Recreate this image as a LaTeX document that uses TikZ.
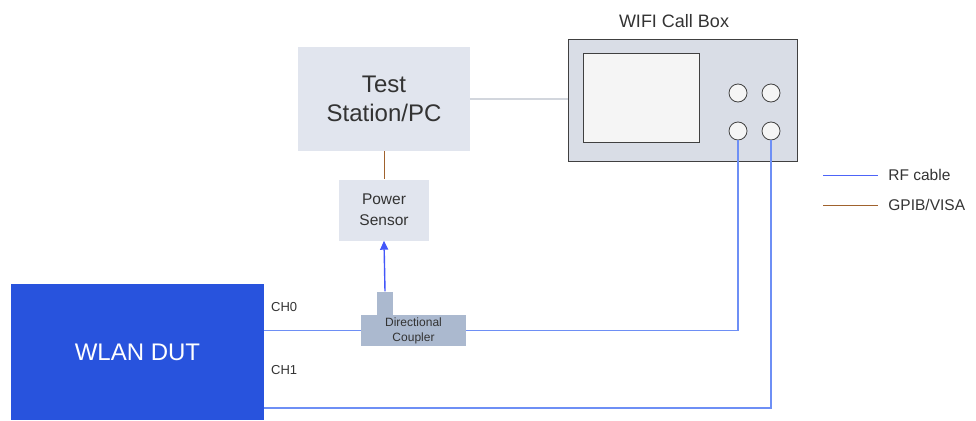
\documentclass[tikz,border=0pt]{standalone}
\usepackage{fontspec}
\setmainfont{Liberation Sans}
\usetikzlibrary{arrows.meta}

\definecolor{boxgray}{HTML}{E1E5EE}
\definecolor{instgray}{HTML}{D9DDE6}
\definecolor{cplgray}{HTML}{ABB9CF}
\definecolor{dutblue}{HTML}{2853DD}
\definecolor{rfblue}{HTML}{6E8FF5}
\definecolor{gpib}{HTML}{A0622D}
\definecolor{txtgray}{HTML}{333333}

\tikzset{
  block/.style={fill=boxgray, draw=none, align=center, text=txtgray, inner sep=0pt},
  rf/.style={draw=rfblue, line width=1.3pt},
  bus/.style={draw=gpib, line width=0.9pt},
  port/.style={circle, draw=black!75, fill=white!96!black, line width=0.8pt, minimum size=18pt, inner sep=0pt},
  lbl/.style={text=txtgray, inner sep=0pt}
}

\begin{document}
\begin{tikzpicture}[x=1pt, y=-1pt]
    \useasboundingbox (0,0) rectangle (976,420);

    % instruments
    \node[block, minimum width=172pt, minimum height=104pt, font=\fontsize{24}{29}\selectfont] (pc) at (384,99) {Test\\Station/PC};
    \node[block, minimum width=90pt, minimum height=61pt, font=\fontsize{15.5}{21}\selectfont] (sensor) at (384,210) {Power\\Sensor};

    \node[draw=black!75, fill=instgray, line width=0.8pt, minimum width=229pt, minimum height=122pt, inner sep=0pt] (box) at (682.5,100) {};
    \node[draw=black!75, fill=white!96!black, line width=0.8pt, minimum width=116pt, minimum height=89pt, inner sep=0pt] (screen) at (641,97.5) {};
    \node[lbl, font=\fontsize{18}{20}\selectfont, above=0pt] (boxname) at (674,28) {WIFI Call Box};

    \node[port] (p1) at (738,93) {};
    \node[port] (p2) at (771,93) {};
    \node[port] (p3) at (738,131) {};
    \node[port] (p4) at (771,131) {};

    % DUT
    \node[fill=dutblue, minimum width=253pt, minimum height=136pt, inner sep=0pt, text=white, font=\fontsize{24}{28}\selectfont] (dut) at (137.5,352) {WLAN DUT};
    \node[lbl, font=\fontsize{13}{15}\selectfont, anchor=west] (ch0) at (271,307) {CH0};
    \node[lbl, font=\fontsize{13}{15}\selectfont, anchor=west] (ch1) at (271,370) {CH1};

    % coupler
    \node[fill=cplgray, minimum width=16pt, minimum height=24pt, inner sep=0pt] (stub) at (385,303.5) {};
    \node[fill=cplgray, minimum width=105pt, minimum height=31pt, inner sep=0pt, align=center, text=txtgray, font=\fontsize{12}{15}\selectfont] (coupler) at (413.5,330.5) {Directional\\Coupler};

    % connections
    \draw[draw=boxgray!85!gray, line width=1.2pt] (pc.east) -- (box.west |- pc.east);
    \draw[bus] (pc.south) -- (sensor.north);
    \draw[draw=rfblue!60!blue, line width=1.4pt, -{Triangle[length=9pt, width=8pt]}] (stub.north) -- (sensor.south);

    \draw[rf] (dut.east |- coupler.west) -- (coupler.west);
    \draw[rf] (coupler.east) -| (p3.south);
    \draw[rf] (264,408) -| (p4.south);

    % legend
    \coordinate (l1) at (823,175);
    \coordinate (l2) at (823,205);
    \draw[draw=rfblue!70!blue, line width=0.8pt] (l1) -- ++(55,0) node[lbl, anchor=west, xshift=10pt, font=\fontsize{15.5}{18}\selectfont] (rflbl) {RF cable};
    \draw[draw=gpib, line width=0.8pt] (l2) -- ++(55,0) node[lbl, anchor=west, xshift=10pt, font=\fontsize{15.5}{18}\selectfont] (gpiblbl) {GPIB/VISA};
\end{tikzpicture}
\end{document}
